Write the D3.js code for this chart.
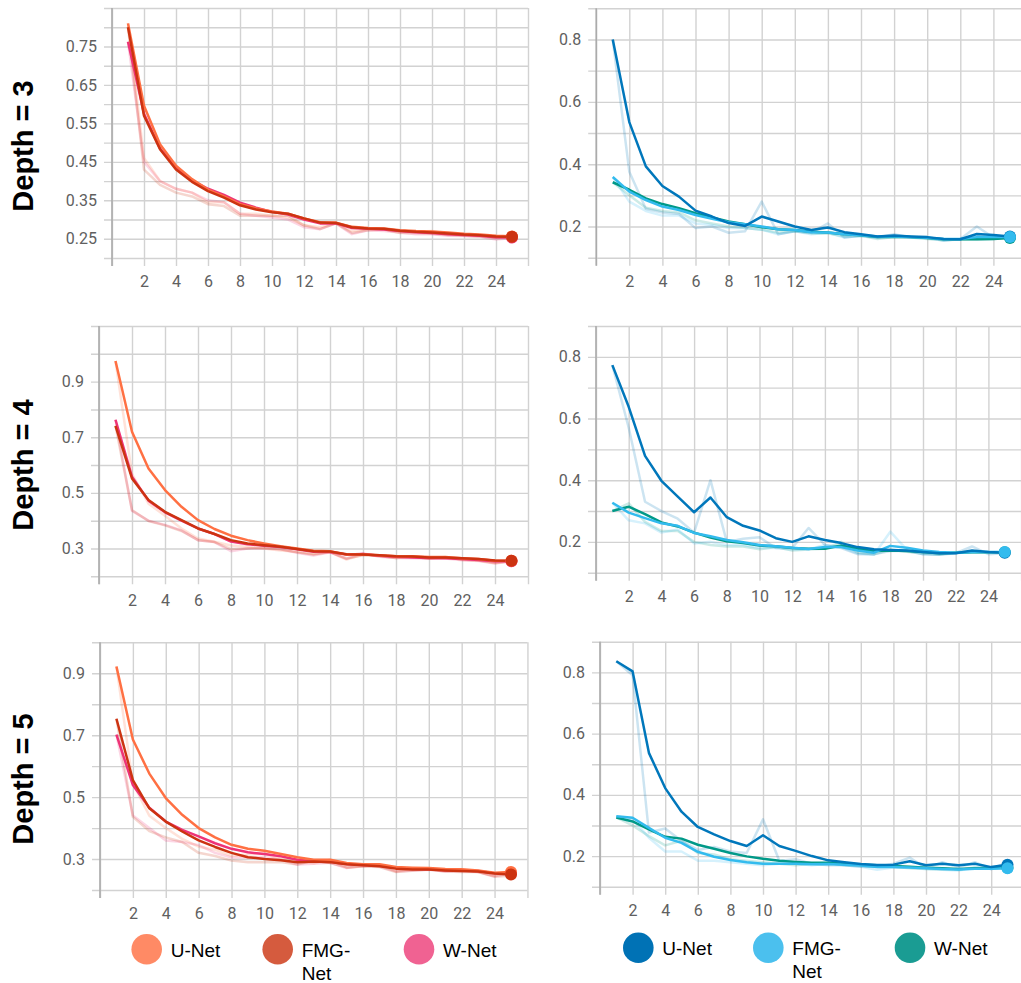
<!DOCTYPE html>
<html>
<head>
<meta charset="utf-8">
<script src="https://cdn.jsdelivr.net/npm/d3@7"></script>
<style>
  body { margin: 0; background: #fff; }
  svg { display: block; }
</style>
</head>
<body>
<svg width="1021" height="983"></svg>
<script>
// epochs on the x axis
const epochs = [1,2,3,4,5,6,7,8,9,10,11,12,13,14,15,16,17,18,19,20,21,22,23,24,25]
const xTickLabels = [2,4,6,8,10,12,14,16,18,20,22,24]
const legendNames = ['U-Net', 'FMG-Net', 'W-Net']
const rowNames = ['Depth = 3', 'Depth = 4', 'Depth = 5']

// depth 3 - left (smoothed + raw)
const d3L_unet_s = [0.81,0.596,0.496,0.44,0.405,0.378,0.36,0.34,0.329,0.321,0.315,0.303,0.293,0.292,0.281,0.278,0.277,0.272,0.27,0.269,0.266,0.263,0.261,0.258,0.256]
const d3L_unet_r = [0.81,0.46,0.40,0.38,0.37,0.345,0.345,0.315,0.315,0.31,0.305,0.285,0.28,0.29,0.27,0.275,0.275,0.268,0.268,0.27,0.262,0.26,0.258,0.253,0.255]
const d3L_fmg_s = [0.80,0.57,0.483,0.43,0.398,0.374,0.357,0.337,0.326,0.319,0.315,0.303,0.292,0.291,0.28,0.277,0.276,0.271,0.268,0.266,0.264,0.261,0.259,0.256,0.255]
const d3L_fmg_r = [0.80,0.43,0.39,0.37,0.36,0.34,0.335,0.31,0.31,0.31,0.31,0.285,0.275,0.29,0.265,0.272,0.274,0.265,0.265,0.263,0.26,0.258,0.256,0.252,0.254]
const d3L_wnet_s = [0.762,0.575,0.485,0.435,0.402,0.38,0.364,0.344,0.331,0.32,0.313,0.30,0.29,0.29,0.278,0.276,0.274,0.27,0.267,0.265,0.262,0.26,0.258,0.254,0.253]
const d3L_wnet_r = [0.762,0.45,0.40,0.38,0.37,0.35,0.345,0.315,0.31,0.305,0.30,0.28,0.275,0.29,0.262,0.272,0.27,0.266,0.262,0.262,0.258,0.257,0.255,0.248,0.252]

// depth 3 - right
const d3R_unet_s = [0.80,0.535,0.393,0.33,0.296,0.251,0.232,0.211,0.202,0.232,0.216,0.20,0.189,0.197,0.182,0.175,0.168,0.171,0.168,0.166,0.16,0.159,0.176,0.173,0.168]
const d3R_unet_r = [0.80,0.376,0.257,0.245,0.24,0.195,0.20,0.18,0.185,0.28,0.175,0.185,0.18,0.21,0.165,0.17,0.165,0.175,0.165,0.165,0.155,0.16,0.20,0.165,0.165]
const d3R_fmg_s = [0.359,0.312,0.285,0.264,0.253,0.237,0.225,0.214,0.207,0.20,0.191,0.189,0.182,0.181,0.175,0.172,0.168,0.168,0.166,0.164,0.16,0.16,0.166,0.166,0.166]
const d3R_fmg_r = [0.359,0.28,0.25,0.235,0.235,0.21,0.205,0.195,0.195,0.19,0.175,0.185,0.175,0.18,0.165,0.17,0.163,0.168,0.165,0.162,0.155,0.16,0.17,0.165,0.166]
const d3R_wnet_s = [0.342,0.318,0.29,0.272,0.259,0.243,0.229,0.216,0.207,0.198,0.191,0.189,0.183,0.181,0.175,0.172,0.166,0.166,0.166,0.163,0.159,0.159,0.159,0.16,0.163]
const d3R_wnet_r = [0.342,0.30,0.26,0.25,0.245,0.22,0.21,0.20,0.195,0.19,0.18,0.185,0.178,0.178,0.168,0.17,0.16,0.166,0.165,0.16,0.156,0.158,0.158,0.16,0.165]

// depth 4 - left
const d4L_unet_s = [0.974,0.72,0.588,0.51,0.45,0.402,0.37,0.346,0.33,0.318,0.308,0.30,0.292,0.29,0.278,0.278,0.276,0.272,0.272,0.269,0.269,0.265,0.262,0.256,0.256]
const d4L_unet_r = [0.974,0.568,0.461,0.418,0.372,0.336,0.324,0.311,0.306,0.30,0.293,0.288,0.28,0.287,0.26,0.278,0.273,0.266,0.272,0.264,0.269,0.259,0.257,0.247,0.256]
const d4L_fmg_s = [0.741,0.552,0.474,0.432,0.402,0.372,0.352,0.33,0.318,0.312,0.306,0.298,0.29,0.289,0.279,0.278,0.276,0.272,0.271,0.268,0.268,0.265,0.262,0.257,0.256]
const d4L_fmg_r = [0.741,0.438,0.399,0.383,0.363,0.33,0.323,0.298,0.30,0.303,0.297,0.286,0.278,0.287,0.264,0.276,0.273,0.266,0.269,0.263,0.268,0.26,0.257,0.249,0.254]
const d4L_wnet_s = [0.763,0.558,0.472,0.43,0.40,0.372,0.352,0.325,0.315,0.31,0.305,0.297,0.288,0.287,0.278,0.28,0.274,0.27,0.268,0.266,0.265,0.262,0.259,0.254,0.254]
const d4L_wnet_r = [0.763,0.435,0.40,0.385,0.365,0.33,0.323,0.29,0.30,0.30,0.297,0.285,0.275,0.286,0.263,0.283,0.27,0.266,0.265,0.263,0.264,0.258,0.255,0.246,0.254]

// depth 4 - right
const d4R_unet_s = [0.773,0.638,0.479,0.398,0.347,0.296,0.344,0.28,0.252,0.237,0.212,0.20,0.218,0.206,0.196,0.183,0.176,0.174,0.172,0.167,0.163,0.163,0.172,0.167,0.165]
const d4R_unet_r = [0.773,0.57,0.33,0.30,0.275,0.23,0.40,0.20,0.21,0.215,0.18,0.18,0.245,0.19,0.18,0.16,0.16,0.17,0.17,0.16,0.158,0.163,0.185,0.16,0.163]
const d4R_fmg_s = [0.327,0.295,0.277,0.26,0.252,0.229,0.218,0.206,0.199,0.19,0.186,0.181,0.177,0.183,0.183,0.172,0.165,0.187,0.181,0.172,0.167,0.165,0.167,0.167,0.167]
const d4R_fmg_r = [0.327,0.27,0.26,0.23,0.24,0.195,0.20,0.19,0.19,0.18,0.18,0.175,0.175,0.19,0.183,0.163,0.158,0.233,0.175,0.16,0.16,0.163,0.168,0.167,0.167]
const d4R_wnet_s = [0.30,0.314,0.29,0.263,0.25,0.23,0.214,0.202,0.196,0.188,0.186,0.18,0.178,0.178,0.188,0.178,0.17,0.172,0.17,0.167,0.163,0.165,0.166,0.166,0.166]
const d4R_wnet_r = [0.30,0.325,0.265,0.235,0.235,0.20,0.19,0.185,0.185,0.176,0.183,0.172,0.175,0.178,0.20,0.165,0.16,0.175,0.168,0.162,0.158,0.167,0.167,0.166,0.166]

// depth 5 - left
const d5L_unet_s = [0.922,0.686,0.576,0.497,0.443,0.40,0.37,0.346,0.333,0.327,0.316,0.306,0.298,0.298,0.287,0.283,0.283,0.274,0.272,0.271,0.268,0.267,0.263,0.256,0.258]
const d5L_unet_r = [0.922,0.544,0.44,0.40,0.365,0.34,0.33,0.31,0.315,0.318,0.30,0.292,0.286,0.298,0.272,0.277,0.283,0.26,0.269,0.269,0.264,0.265,0.258,0.246,0.261]
const d5L_fmg_s = [0.753,0.555,0.464,0.421,0.389,0.36,0.339,0.32,0.306,0.30,0.296,0.29,0.292,0.29,0.283,0.28,0.277,0.269,0.266,0.266,0.263,0.261,0.26,0.253,0.25]
const d5L_fmg_r = [0.753,0.436,0.39,0.37,0.355,0.32,0.31,0.295,0.29,0.29,0.29,0.282,0.295,0.287,0.273,0.276,0.274,0.258,0.262,0.266,0.26,0.258,0.258,0.243,0.246]
const d5L_wnet_s = [0.702,0.539,0.466,0.421,0.394,0.373,0.351,0.333,0.322,0.316,0.309,0.298,0.293,0.291,0.283,0.281,0.279,0.271,0.268,0.267,0.264,0.263,0.261,0.254,0.254]
const d5L_wnet_r = [0.702,0.441,0.40,0.36,0.355,0.345,0.32,0.305,0.305,0.307,0.298,0.282,0.285,0.288,0.271,0.278,0.276,0.26,0.263,0.265,0.26,0.261,0.258,0.244,0.254]

// depth 5 - right
const d5R_unet_s = [0.836,0.803,0.537,0.422,0.345,0.295,0.271,0.249,0.233,0.268,0.233,0.217,0.20,0.186,0.18,0.174,0.171,0.172,0.183,0.17,0.175,0.17,0.175,0.164,0.172]
const d5R_unet_r = [0.836,0.79,0.277,0.29,0.25,0.22,0.23,0.215,0.21,0.32,0.185,0.19,0.175,0.17,0.17,0.165,0.165,0.175,0.195,0.16,0.18,0.163,0.18,0.157,0.18]
const d5R_fmg_s = [0.33,0.325,0.292,0.26,0.243,0.214,0.198,0.187,0.18,0.175,0.175,0.175,0.173,0.174,0.172,0.169,0.164,0.164,0.163,0.16,0.158,0.156,0.159,0.159,0.16]
const d5R_fmg_r = [0.33,0.32,0.26,0.215,0.215,0.185,0.185,0.18,0.175,0.17,0.175,0.175,0.17,0.175,0.17,0.165,0.155,0.163,0.162,0.158,0.155,0.153,0.162,0.16,0.16]
const d5R_wnet_s = [0.326,0.313,0.287,0.263,0.257,0.237,0.224,0.21,0.199,0.191,0.185,0.181,0.178,0.178,0.175,0.172,0.17,0.168,0.165,0.162,0.16,0.158,0.16,0.161,0.162]
const d5R_wnet_r = [0.326,0.30,0.265,0.235,0.25,0.21,0.205,0.19,0.185,0.18,0.175,0.17,0.175,0.178,0.17,0.168,0.165,0.165,0.16,0.158,0.156,0.155,0.163,0.162,0.162]

// y tick labels per panel
const yLabels_d3L = [0.25,0.35,0.45,0.55,0.65,0.75]
const yLabels_left = [0.3,0.5,0.7,0.9]
const yLabels_right = [0.2,0.4,0.6,0.8]

const LEFT_COLORS = { unet: '#ff7043', fmg: '#cc3311', wnet: '#ee3377' }
const RIGHT_COLORS = { unet: '#0077bb', fmg: '#33bbee', wnet: '#009988' }
const LEFT_LEGEND = ['#ff8a65', '#d55b3e', '#f06292']
const RIGHT_LEGEND = ['#0072b5', '#4bc0ee', '#1a9c93']
const GRID = '#d2d2d2'
const TICK_TEXT = '#606060'

const svg = d3.select('svg')

// panel geometry
const panels = [
  { x0: 112, unit: 16, top: 8, bottom: 258, dom: [0.2, 0.85], step: 0.05, labels: yLabels_d3L, fmt: '.2f', colors: LEFT_COLORS, order: ['wnet', 'unet', 'fmg'], dots: ['wnet', 'unet', 'fmg'],
    data: { unet: [d3L_unet_s, d3L_unet_r], fmg: [d3L_fmg_s, d3L_fmg_r], wnet: [d3L_wnet_s, d3L_wnet_r] } },
  { x0: 596.2, unit: 16.55, top: 8.3, bottom: 257.7, dom: [0.1, 0.9], step: 0.1, labels: yLabels_right, fmt: '.1f', colors: RIGHT_COLORS, order: ['wnet', 'fmg', 'unet'], dots: ['wnet', 'unet', 'fmg'],
    data: { unet: [d3R_unet_s, d3R_unet_r], fmg: [d3R_fmg_s, d3R_fmg_r], wnet: [d3R_wnet_s, d3R_wnet_r] } },
  { x0: 99, unit: 16.5, top: 326, bottom: 576.3, dom: [0.2, 1.1], step: 0.1, labels: yLabels_left, fmt: '.1f', colors: LEFT_COLORS, order: ['wnet', 'unet', 'fmg'], dots: ['wnet', 'unet', 'fmg'],
    data: { unet: [d4L_unet_s, d4L_unet_r], fmg: [d4L_fmg_s, d4L_fmg_r], wnet: [d4L_wnet_s, d4L_wnet_r] } },
  { x0: 596, unit: 16.35, top: 326, bottom: 572.7, dom: [0.1, 0.9], step: 0.1, labels: yLabels_right, fmt: '.1f', colors: RIGHT_COLORS, order: ['wnet', 'fmg', 'unet'], dots: ['wnet', 'unet', 'fmg'],
    data: { unet: [d4R_unet_s, d4R_unet_r], fmg: [d4R_fmg_s, d4R_fmg_r], wnet: [d4R_wnet_s, d4R_wnet_r] } },
  { x0: 100, unit: 16.44, top: 642.3, bottom: 890, dom: [0.2, 1.0], step: 0.1, labels: yLabels_left, fmt: '.1f', colors: LEFT_COLORS, order: ['wnet', 'unet', 'fmg'], dots: ['wnet', 'unet', 'fmg'],
    data: { unet: [d5L_unet_s, d5L_unet_r], fmg: [d5L_fmg_s, d5L_fmg_r], wnet: [d5L_wnet_s, d5L_wnet_r] } },
  { x0: 600, unit: 16.3, top: 641.7, bottom: 886.7, dom: [0.1, 0.9], step: 0.1, labels: yLabels_right, fmt: '.1f', colors: RIGHT_COLORS, order: ['wnet', 'fmg', 'unet'], dots: ['wnet', 'unet', 'fmg'],
    data: { unet: [d5R_unet_s, d5R_unet_r], fmg: [d5R_fmg_s, d5R_fmg_r], wnet: [d5R_wnet_s, d5R_wnet_r] } }
]

panels.forEach((p, pi) => {
  const right = p.x0 + 26 * p.unit
  const x = d3.scaleLinear().domain([0, 26]).range([p.x0, right])
  const y = d3.scaleLinear().domain(p.dom).range([p.bottom, p.top])
  const g = svg.append('g')

  // horizontal grid + y labels
  const yGrid = d3.range(Math.round((p.dom[1] - p.dom[0]) / p.step) + 1).map(i => +(p.dom[0] + i * p.step).toFixed(3))
  const fmt = d3.format(p.fmt)
  const yAxis = d3.axisLeft(y).tickValues(yGrid).tickSize(-(right - p.x0 + 8)).tickPadding(7)
    .tickFormat(v => p.labels.some(l => Math.abs(l - v) < 1e-6) ? fmt(v) : '')
  g.append('g').attr('transform', `translate(${p.x0 - 8},0)`).call(yAxis)
    .call(a => a.select('.domain').remove())
    .call(a => a.selectAll('line').attr('stroke', GRID).attr('stroke-width', 1.4))
    .call(a => a.selectAll('text').attr('fill', TICK_TEXT).style('font', '16px Roboto'))

  // vertical grid + x labels
  const xAxis = d3.axisBottom(x).tickValues(d3.range(0, 27, 2)).tickSize(-(p.bottom + 8 - p.top)).tickPadding(10)
    .tickFormat(v => xTickLabels.includes(v) ? v : '')
  g.append('g').attr('transform', `translate(0,${p.bottom + 8})`).call(xAxis)
    .call(a => a.select('.domain').remove())
    .call(a => a.selectAll('line').attr('stroke', GRID).attr('stroke-width', 1.4))
    .call(a => a.selectAll('text').attr('fill', TICK_TEXT).style('font', '16px Roboto'))

  // darker y axis line
  g.append('line').attr('x1', x(0)).attr('x2', x(0)).attr('y1', p.top).attr('y2', p.bottom + 8)
    .attr('stroke', '#ababab').attr('stroke-width', 1.6)

  const line = d3.line().x((d, i) => x(epochs[i])).y(d => y(d))

  // raw (faint) lines first
  p.order.forEach(k => {
    g.append('path').datum(p.data[k][1]).attr('d', line)
      .attr('fill', 'none').attr('stroke', p.colors[k]).attr('stroke-opacity', 0.2)
      .attr('stroke-width', 2.5).attr('stroke-linejoin', 'round')
  })
  // smoothed lines
  p.order.forEach(k => {
    g.append('path').datum(p.data[k][0]).attr('d', line)
      .attr('fill', 'none').attr('stroke', p.colors[k])
      .attr('stroke-width', 2.5).attr('stroke-linejoin', 'round')
  })
  // last-point markers
  p.dots.forEach(k => {
    const s = p.data[k][0]
    g.append('circle').attr('cx', x(epochs[s.length - 1])).attr('cy', y(s[s.length - 1]))
      .attr('r', 6).attr('fill', p.colors[k])
  })
})

// row titles
const rowCenters = [146, 465, 779]
rowNames.forEach((t, i) => {
  svg.append('text')
    .attr('transform', `translate(33,${rowCenters[i]}) rotate(-90)`)
    .attr('text-anchor', 'middle')
    .style('font', 'bold 29px "Liberation Sans", Arial, sans-serif')
    .attr('fill', '#000')
    .text(t)
})

// legends
function drawLegend (cx, cy, colors) {
  legendNames.forEach((name, i) => {
    svg.append('circle').attr('cx', cx[i]).attr('cy', cy).attr('r', 15.3).attr('fill', colors[i])
    const t = svg.append('text').attr('x', cx[i] + 24).attr('y', cy + 7.5)
      .style('font', '19px "Liberation Sans", Arial, sans-serif').attr('fill', '#000')
    const parts = name === 'FMG-Net' ? ['FMG-', 'Net'] : [name]
    parts.forEach((s, j) => t.append('tspan').attr('x', cx[i] + 24).attr('dy', j ? 23 : 0).text(s))
  })
}
drawLegend([146.7, 277.7, 419], 949.3, LEFT_LEGEND)
drawLegend([638.3, 768.3, 910], 947.7, RIGHT_LEGEND)
</script>
</body>
</html>
